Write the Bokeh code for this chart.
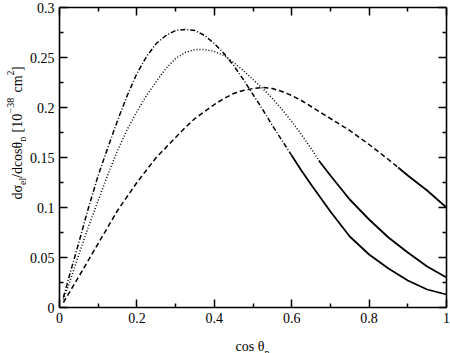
import math
from bokeh.plotting import figure
from bokeh.layouts import row, column
from bokeh.models import (Range1d, FixedTicker, NumeralTickFormatter, LinearAxis, Label)
from bokeh.embed import file_html
from bokeh.resources import INLINE

# ---- data ----
x_dashdot = [0.01, 0.025, 0.05, 0.075, 0.1, 0.125, 0.15, 0.175, 0.2, 0.225, 0.25, 0.275,
             0.3, 0.325, 0.35, 0.375, 0.4, 0.425, 0.45, 0.475, 0.5, 0.525, 0.55, 0.575,
             0.6, 0.625, 0.65, 0.7, 0.75, 0.8, 0.85, 0.9, 0.95, 1.0]
y_dashdot = [0.010, 0.031, 0.065, 0.100, 0.132, 0.160, 0.187, 0.212, 0.234, 0.251, 0.264,
             0.272, 0.277, 0.278, 0.277, 0.272, 0.264, 0.254, 0.242, 0.228, 0.213, 0.198,
             0.182, 0.167, 0.152, 0.137, 0.123, 0.096, 0.071, 0.053, 0.039, 0.027, 0.018,
             0.013]
solid_from_dashdot = 0.6

x_dotted = [0.01, 0.025, 0.05, 0.075, 0.1, 0.125, 0.15, 0.175, 0.2, 0.225, 0.25, 0.275,
            0.3, 0.325, 0.35, 0.375, 0.4, 0.425, 0.45, 0.475, 0.5, 0.525, 0.55, 0.575,
            0.6, 0.625, 0.65, 0.67, 0.7, 0.75, 0.8, 0.85, 0.9, 0.95, 1.0]
y_dotted = [0.008, 0.024, 0.053, 0.081, 0.107, 0.133, 0.157, 0.178, 0.196, 0.212, 0.226,
            0.239, 0.249, 0.255, 0.258, 0.258, 0.256, 0.252, 0.245, 0.237, 0.228, 0.219,
            0.209, 0.198, 0.186, 0.173, 0.159, 0.147, 0.132, 0.108, 0.088, 0.070, 0.055,
            0.041, 0.030]
solid_from_dotted = 0.67

x_dashed = [0.01, 0.05, 0.1, 0.15, 0.2, 0.25, 0.3, 0.325, 0.35, 0.375, 0.4, 0.425, 0.45,
            0.475, 0.5, 0.525, 0.55, 0.575, 0.6, 0.625, 0.65, 0.675, 0.7, 0.75, 0.8, 0.85,
            0.875, 0.9, 0.95, 1.0]
y_dashed = [0.005, 0.031, 0.064, 0.097, 0.125, 0.150, 0.170, 0.180, 0.189, 0.196, 0.203,
            0.209, 0.214, 0.217, 0.219, 0.220, 0.219, 0.216, 0.212, 0.207, 0.201, 0.195,
            0.189, 0.177, 0.163, 0.148, 0.140, 0.132, 0.117, 0.100]
solid_from_dashed = 0.875

x_ticks = [0, 0.2, 0.4, 0.6, 0.8, 1.0]
x_minor = [0.1, 0.3, 0.5, 0.7, 0.9]
y_ticks = [0, 0.05, 0.1, 0.15, 0.2, 0.25, 0.3]
y_minor = [0.025, 0.075, 0.125, 0.175, 0.225, 0.275]

FONT = "Liberation Serif"
YLAB_W = 26          # strip holding the y-axis title
MAIN_H = 332         # height of the main plot row
XLAB_H = 21          # strip holding the x-axis title
TOTAL_W = 450


def strip(width, height):
    f = figure(width=width, height=height, x_range=Range1d(0, 1), y_range=Range1d(0, 1),
               output_backend="svg", toolbar_location=None,
               x_axis_location=None, y_axis_location=None, min_border=0)
    f.grid.visible = False
    f.outline_line_color = None
    f.background_fill_color = "white"
    f.border_fill_color = "white"
    return f


p = figure(width=TOTAL_W - YLAB_W, height=MAIN_H, x_range=Range1d(0, 1),
           y_range=Range1d(0, 0.3), output_backend="svg", toolbar_location=None,
           min_border_left=32, min_border_right=4, min_border_top=7, min_border_bottom=25)
p.grid.visible = False
p.outline_line_color = None
p.background_fill_color = "white"
p.border_fill_color = "white"


def style_axis(ax, ticks, minor, fmt, labels=True):
    ax.ticker = FixedTicker(ticks=ticks, minor_ticks=minor)
    ax.formatter = NumeralTickFormatter(format=fmt)
    ax.axis_line_width = 1.6
    ax.axis_line_color = "black"
    ax.major_tick_in = 8
    ax.major_tick_out = 0
    ax.minor_tick_in = 4
    ax.minor_tick_out = 0
    ax.major_tick_line_width = 1.5
    ax.minor_tick_line_width = 1.5
    ax.major_tick_line_color = "black"
    ax.minor_tick_line_color = "black"
    ax.major_label_text_font = FONT
    ax.major_label_text_color = "black"
    if labels:
        ax.major_label_text_font_size = "14px"
        ax.major_label_standoff = 5
    else:
        ax.major_label_overrides = {t: "" for t in ticks}
        ax.major_label_text_font_size = "0px"
        ax.major_label_standoff = 0


style_axis(p.xaxis[0], x_ticks, x_minor, "0.[0]")
style_axis(p.yaxis[0], y_ticks, y_minor, "0.[00]")

top = LinearAxis()
style_axis(top, x_ticks, x_minor, "0.[0]", labels=False)
p.add_layout(top, "above")
right = LinearAxis()
style_axis(right, y_ticks, y_minor, "0.[00]", labels=False)
p.add_layout(right, "right")


def split(xs, ys, b):
    xd = [x for x in xs if x <= b]
    yd = [y for x, y in zip(xs, ys) if x <= b]
    xs_ = [x for x in xs if x >= b]
    ys_ = [y for x, y in zip(xs, ys) if x >= b]
    return xd, yd, xs_, ys_


for xs, ys, b, dash in [(x_dashdot, y_dashdot, solid_from_dashdot, "5 2 1 2"),
                        (x_dotted, y_dotted, solid_from_dotted, "1 2"),
                        (x_dashed, y_dashed, solid_from_dashed, "5 3")]:
    xd, yd, xs_, ys_ = split(xs, ys, b)
    p.line(xd, yd, line_color="black", line_width=1.5, line_dash=dash)
    p.line(xs_, ys_, line_color="black", line_width=1.8)


def piece(fig, h, text, px, py, size, angle=0.0):
    # px, py: pixels from the strip's top-left corner
    fig.add_layout(Label(x=px, y=h - py, x_units="screen", y_units="screen",
                         text=text, angle=angle, text_font=FONT, text_font_size=size,
                         text_color="black", text_baseline="alphabetic",
                         text_align="left"))


# ---- y axis title (rotated pieces with sub/superscripts) ----
ylab = strip(YLAB_W, MAIN_H)
for t, px, py, fs in [("dσ", 17, 224, "14px"), ("el", 21.5, 209.5, "10px"),
                      ("/dcosθ", 17, 202.5, "14px"), ("p", 21.5, 166, "10px"),
                      ("[10", 17, 157, "14px"), ("−38", 9.5, 138, "10px"),
                      ("cm", 17, 117, "14px"), ("2", 9.5, 100, "10px"),
                      ("]", 17, 95.5, "14px")]:
    piece(ylab, MAIN_H, t, px, py, fs, math.pi / 2)

# ---- x axis title ----
xlab = strip(TOTAL_W, XLAB_H)
piece(xlab, XLAB_H, "cos θ", 235, 14, "14px")
piece(xlab, XLAB_H, "p", 264, 20, "10px")

layout = column(row(ylab, p, spacing=0), xlab, spacing=0)
open("out.html", "w").write(file_html(layout, INLINE))
